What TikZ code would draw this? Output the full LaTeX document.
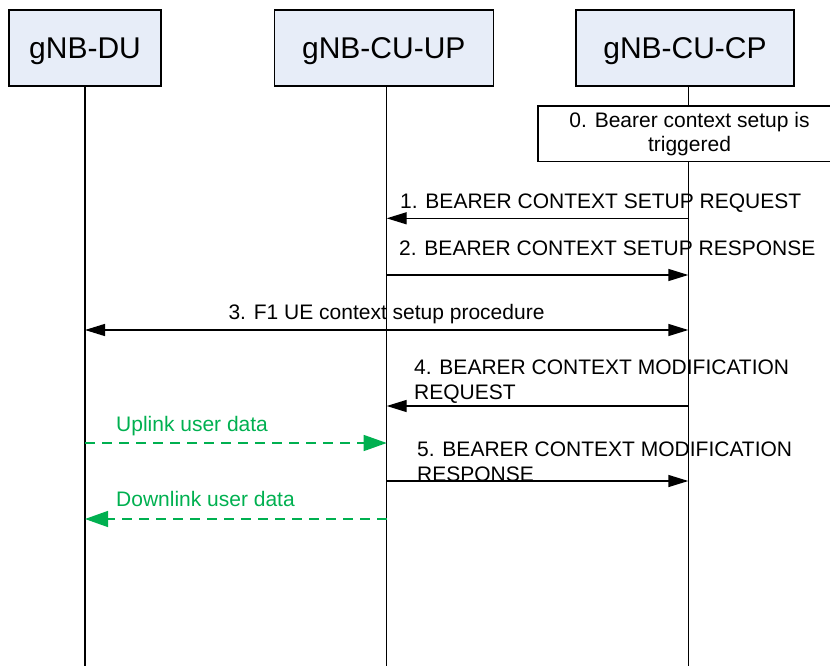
\documentclass[tikz,border=0pt]{standalone}
\usepackage{fontspec}
\setmainfont{Liberation Sans}
\usetikzlibrary{arrows.meta}
\definecolor{boxfill}{RGB}{231,237,248}
\definecolor{ugreen}{RGB}{0,176,80}
\tikzset{
  entity/.style={draw=black, line width=1.4pt, fill=boxfill, minimum height=76pt,
    inner sep=0pt, text height=21.5pt, text depth=0pt, font=\fontsize{30}{34}\selectfont},
  lifeline/.style={draw=black, line width=1.3pt},
  msg/.style={draw=black, line width=1.4pt, -{Triangle[length=20pt,width=12pt]}},
  msgboth/.style={draw=black, line width=1.4pt, {Triangle[length=20pt,width=12pt]}-{Triangle[length=20pt,width=12pt]}},
  datamsg/.style={draw=ugreen, line width=1.4pt, dash pattern=on 10pt off 7pt, -{Triangle[length=23pt,width=16pt]}},
  lbl/.style={inner sep=0pt, font=\fontsize{21}{24.5}\selectfont},
  note/.style={draw=black, line width=1.4pt, fill=white, minimum width=303pt, minimum height=55.7pt,
    inner sep=0pt, align=center, font=\fontsize{21}{24}\selectfont}
}
\begin{document}
\begin{tikzpicture}[x=1pt,y=-1pt]
\useasboundingbox (0,0) rectangle (830,666);
\clip (0,0) rectangle (830,666);
% entities
\node[entity, minimum width=152pt] (du) at (85,48) {gNB-DU};
\node[entity, minimum width=219pt] (up) at (383.8,48) {gNB-CU-UP};
\node[entity, minimum width=218pt] (cp) at (685,48) {gNB-CU-CP};
% lifeline ends
\coordinate (duE) at (85,667);
\coordinate (upS) at (386.7,86);
\coordinate (upE) at (386.7,667);
\coordinate (cpS) at (688.3,86);
\coordinate (cpE) at (688.3,667);
\draw[lifeline] (du.south) -- (duE);
\draw[lifeline] (upS) -- (upE);
\draw[lifeline] (cpS) -- (cpE);
% step 0
\node[note] (n0) at (689.5,133.9) {0. Bearer context setup is\\triggered};
% message end points
\coordinate (cp1) at (688.3,218.3); \coordinate (up1) at (386.7,218.3);
\coordinate (up2) at (386.7,275);   \coordinate (cp2) at (688.3,275);
\coordinate (du3) at (85,330);      \coordinate (cp3) at (688.3,330);
\coordinate (cp4) at (688.3,406);   \coordinate (up4) at (386.7,406);
\coordinate (duU) at (85,443);      \coordinate (upU) at (386.7,443);
\coordinate (up5) at (386.7,481);   \coordinate (cp5) at (688.3,481);
\coordinate (upD) at (386.7,519);   \coordinate (duD) at (85,519);
% messages
\draw[msg] (cp1) -- (up1);
\draw[msg] (up2) -- (cp2);
\draw[msgboth] (du3) -- (cp3);
\draw[msg] (cp4) -- (up4);
\draw[datamsg] (duU) -- (upU);
\draw[msg] (up5) -- (cp5);
\draw[datamsg] (upD) -- (duD);
% labels
\node[lbl, anchor=base west] (l1) at (400,208.5) {1. BEARER CONTEXT SETUP REQUEST};
\node[lbl, anchor=base west] (l2) at (399,255.5) {2. BEARER CONTEXT SETUP RESPONSE};
\node[lbl, anchor=base] (l3) at (386.5,319.5) {3. F1 UE context setup procedure};
\node[lbl, anchor=base west] (l4) at (414,374.5) {\begin{tabular}[t]{@{}l@{}}4. BEARER CONTEXT MODIFICATION\\REQUEST\end{tabular}};
\node[lbl, anchor=base west, text=ugreen] (lu) at (116,431.7) {Uplink user data};
\node[lbl, anchor=base west] (l5) at (417,456.5) {\begin{tabular}[t]{@{}l@{}}5. BEARER CONTEXT MODIFICATION\\RESPONSE\end{tabular}};
\node[lbl, anchor=base west, text=ugreen] (ld) at (116,506.7) {Downlink user data};
\end{tikzpicture}
\end{document}
